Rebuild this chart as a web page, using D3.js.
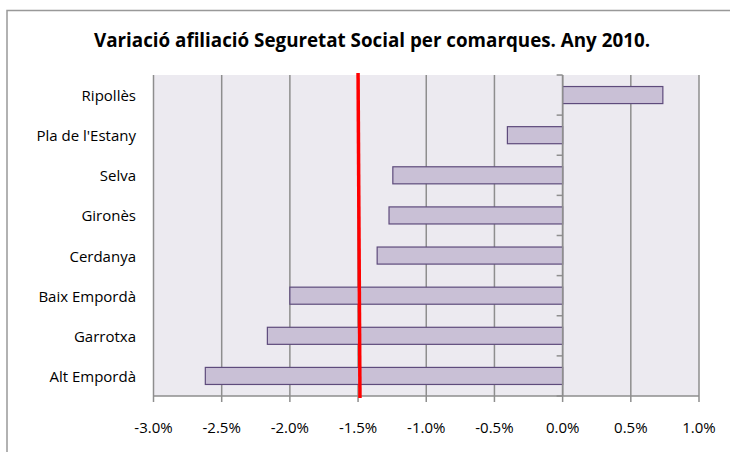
<!DOCTYPE html>
<html><head><meta charset="utf-8">
<script src="https://cdn.jsdelivr.net/npm/d3@7"></script>
<style>body{margin:0;background:#fff}svg{display:block}</style>
</head><body>
<script>
const categories = ["Ripollès","Pla de l'Estany","Selva","Gironès","Cerdanya","Baix Empordà","Garrotxa","Alt Empordà"];
const values = [0.735, -0.405, -1.245, -1.273, -1.36, -2.0, -2.165, -2.62];
const tickValues = [-3.0,-2.5,-2.0,-1.5,-1.0,-0.5,0.0,0.5,1.0];
const refLine = [-1.5, -1.486];
const title = "Variació afiliació Seguretat Social per comarques. Any 2010.";

const W=730,H=452;
const svg=d3.select("body").append("svg").attr("width",W).attr("height",H);
svg.append("rect").attr("x",7).attr("y",10.5).attr("width",730).attr("height",460)
  .attr("fill","#fff").attr("stroke","#999").attr("stroke-width",1.5);

const L=153.5,R=699,T=75,B=396;
const x=d3.scaleLinear().domain([-3,1]).range([L,R]);
const y=d3.scaleBand().domain(categories).range([T,B]).paddingInner(0.575).paddingOuter(0.2875);

const font="'Open Sans', Lato, sans-serif";
svg.append("text").attr("x",372).attr("y",47).attr("text-anchor","middle")
  .attr("font-family",font).attr("font-weight","bold").attr("font-size",18.8).attr("fill","#000").text(title);

svg.append("rect").attr("x",L).attr("y",T).attr("width",R-L).attr("height",B-T).attr("fill","#ECEAF0");

svg.selectAll(".grid").data(tickValues).join("line").attr("class","grid")
  .attr("x1",d=>x(d)).attr("x2",d=>x(d)).attr("y1",T).attr("y2",B+6)
  .attr("stroke","#8e8e8e").attr("stroke-width",1.5);
svg.append("line").attr("x1",L).attr("x2",R).attr("y1",B).attr("y2",B).attr("stroke","#8e8e8e").attr("stroke-width",1.5);

svg.selectAll(".bar").data(values).join("rect").attr("class","bar")
  .attr("x",d=>x(Math.min(0,d))).attr("width",d=>Math.abs(x(d)-x(0)))
  .attr("y",(d,i)=>y(categories[i])).attr("height",y.bandwidth())
  .attr("fill","#C9C0D6").attr("stroke","#5E4B7C").attr("stroke-width",1.2);

const bounds=d3.range(categories.length+1).map(i=>T+i*(B-T)/categories.length);
svg.append("line").attr("x1",x(0)).attr("x2",x(0)).attr("y1",T).attr("y2",B).attr("stroke","#8e8e8e").attr("stroke-width",1.5);
svg.selectAll(".ytick").data(bounds).join("line").attr("class","ytick")
  .attr("x1",x(0)-6).attr("x2",x(0)).attr("y1",d=>d).attr("y2",d=>d).attr("stroke","#8e8e8e").attr("stroke-width",1.5);

svg.selectAll(".clab").data(categories).join("text").attr("class","clab")
  .attr("x",136).attr("y",d=>y(d)+y.bandwidth()/2+6).attr("text-anchor","end")
  .attr("font-family",font).attr("font-size",15).attr("fill","#000").text(d=>d);

svg.selectAll(".xlab").data(tickValues).join("text").attr("class","xlab")
  .attr("x",d=>x(d)).attr("y",433).attr("text-anchor","middle")
  .attr("font-family",font).attr("font-size",15).attr("fill","#000")
  .text(d=>d3.format(".1f")(d).replace("\u2212","-")+"%");

svg.append("line").attr("x1",x(refLine[0])).attr("x2",x(refLine[1])).attr("y1",73).attr("y2",398)
  .attr("stroke","#ff0000").attr("stroke-width",3.5);
</script>
</body></html>
